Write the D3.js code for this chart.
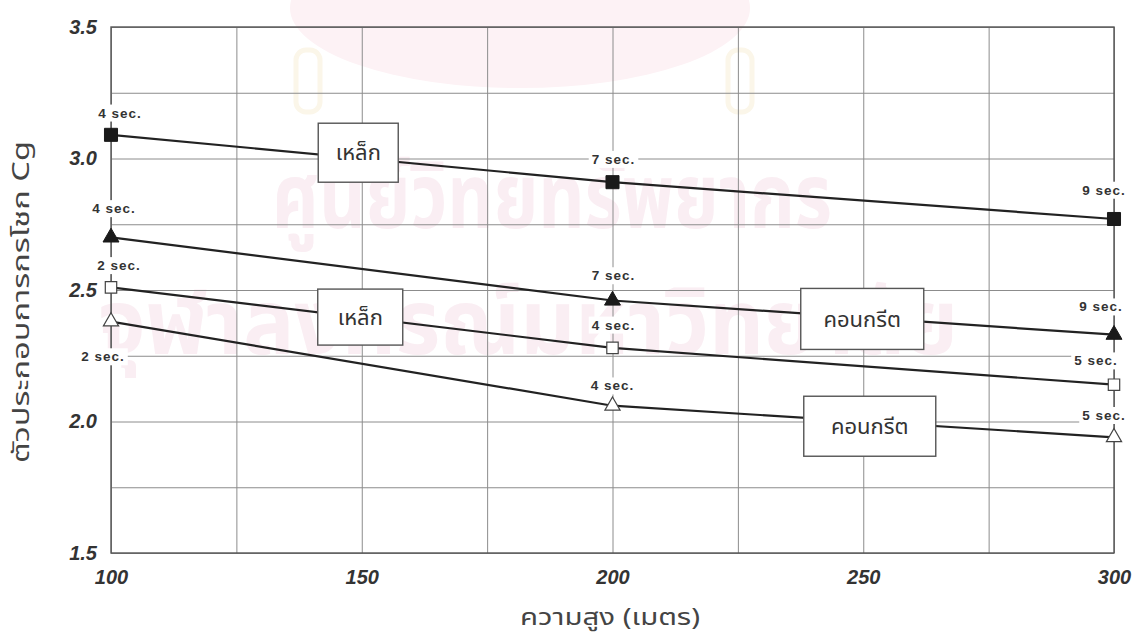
<!DOCTYPE html>
<html>
<head>
<meta charset="utf-8">
<script src="https://cdn.jsdelivr.net/npm/d3@7"></script>
<style>
  html, body { margin: 0; padding: 0; background: #fff; }
  svg { display: block; }
  .thai { font-family: "Noto Sans Thai", "Noto Sans", "DejaVu Sans", sans-serif; }
  .num { font-family: "Liberation Sans", Arial, sans-serif; }
</style>
</head>
<body>
<svg id="chart" width="1144" height="640"></svg>
<script>
// Building height (m) on the x axis
const heights = [100, 200, 300];

// Gust factor Cg for each structure type / case
const steelUpper    = [3.09, 2.91, 2.77];
const concreteUpper = [2.70, 2.46, 2.33];
const steelLower    = [2.51, 2.28, 2.14];
const concreteLower = [2.38, 2.06, 1.94];

// Natural period written next to each point
const steelUpperPeriods    = ["4 sec.", "7 sec.", "9 sec."];
const concreteUpperPeriods = ["4 sec.", "7 sec.", "9 sec."];
const steelLowerPeriods    = ["2 sec.", "4 sec.", "5 sec."];
const concreteLowerPeriods = ["2 sec.", "4 sec.", "5 sec."];

// Axis ticks
const xTicks = [100, 150, 200, 250, 300];
const yTicks = [1.5, 2.0, 2.5, 3.0, 3.5];
const xGrid = [100, 125, 150, 175, 200, 225, 250, 275, 300];
const yGrid = [1.5, 1.75, 2.0, 2.25, 2.5, 2.75, 3.0, 3.25, 3.5];

// Material names shown in the boxed callouts
const steelName = "เหล็ก";
const concreteName = "คอนกรีต";

const xTitle = "ความสูง (เมตร)";
const yTitle = "ตัวประกอบการกรโชก Cg";

// ---- layout ----
const svg = d3.select("#chart");
const plot = { left: 111, right: 1114, top: 27, bottom: 553 };

const x = d3.scaleLinear().domain([100, 300]).range([plot.left, plot.right]);
const y = d3.scaleLinear().domain([1.5, 3.5]).range([plot.bottom, plot.top]);

// faint library stamp in the background
const stamp = svg.append("g").attr("class", "stamp");
stamp.append("ellipse")
  .attr("cx", 520).attr("cy", 8).attr("rx", 230).attr("ry", 80)
  .attr("fill", "#fdf2f5");
[[296, 50], [728, 50]].forEach(([sx, sy]) => {
  stamp.append("rect").attr("x", sx).attr("y", sy).attr("width", 24).attr("height", 62)
    .attr("rx", 10).attr("fill", "none").attr("stroke", "#fbf6e9").attr("stroke-width", 5);
});
stamp.append("text").attr("class", "thai")
  .attr("x", 272).attr("y", 228)
  .attr("textLength", 560).attr("lengthAdjust", "spacingAndGlyphs")
  .attr("font-size", 90).attr("font-weight", "bold").attr("fill", "#faeef3")
  .text("ศูนย์วิทยทรัพยากร");
stamp.append("text").attr("class", "thai")
  .attr("x", 98).attr("y", 354)
  .attr("textLength", 860).attr("lengthAdjust", "spacingAndGlyphs")
  .attr("font-size", 90).attr("font-weight", "bold").attr("fill", "#faeef3")
  .text("จุฬาลงกรณ์มหาวิทยาลัย");

// grid
const grid = svg.append("g").attr("class", "grid");
grid.append("g")
  .attr("transform", `translate(0,${plot.bottom})`)
  .call(d3.axisBottom(x).tickValues(xGrid).tickSize(-(plot.bottom - plot.top)).tickFormat(""))
  .call(g => g.select(".domain").remove())
  .call(g => g.selectAll("line").attr("stroke", "#8c8c8c").attr("stroke-width", 1));
grid.append("g")
  .attr("transform", `translate(${plot.left},0)`)
  .call(d3.axisLeft(y).tickValues(yGrid).tickSize(-(plot.right - plot.left)).tickFormat(""))
  .call(g => g.select(".domain").remove())
  .call(g => g.selectAll("line").attr("stroke", "#8c8c8c").attr("stroke-width", 1));

// frame
svg.append("rect")
  .attr("x", plot.left).attr("y", plot.top)
  .attr("width", plot.right - plot.left).attr("height", plot.bottom - plot.top)
  .attr("fill", "none").attr("stroke", "#555").attr("stroke-width", 1.4);

// axis labels
const yAxis = svg.append("g")
  .attr("transform", `translate(${plot.left},0)`)
  .call(d3.axisLeft(y).tickValues(yTicks).tickSize(0).tickPadding(14).tickFormat(d3.format(".1f")));
yAxis.select(".domain").remove();
yAxis.selectAll("text")
  .attr("class", "num")
  .attr("font-size", 20).attr("font-weight", "bold").attr("font-style", "italic")
  .attr("fill", "#333");

const xAxis = svg.append("g")
  .attr("transform", `translate(0,${plot.bottom})`)
  .call(d3.axisBottom(x).tickValues(xTicks).tickSize(0).tickPadding(17));
xAxis.select(".domain").remove();
xAxis.selectAll("text")
  .attr("class", "num")
  .attr("font-size", 20).attr("font-weight", "bold").attr("font-style", "italic")
  .attr("fill", "#333");

svg.append("text").attr("class", "thai")
  .attr("x", 610).attr("y", 625)
  .attr("text-anchor", "middle")
  .attr("textLength", 180).attr("lengthAdjust", "spacingAndGlyphs")
  .attr("font-size", 23).attr("fill", "#444")
  .text(xTitle);

svg.append("text").attr("class", "thai")
  .attr("transform", `translate(29,302) rotate(-90)`)
  .attr("text-anchor", "middle")
  .attr("textLength", 322).attr("lengthAdjust", "spacingAndGlyphs")
  .attr("font-size", 23).attr("fill", "#444")
  .text(yTitle);

// series definitions (marker style + label placement relative to each point)
const series = [
  { values: steelUpper, periods: steelUpperPeriods, shape: d3.symbolSquare, size: 170, filled: true,
    offsets: [[9, -22], [1, -23], [-10, -29]] },
  { values: concreteUpper, periods: concreteUpperPeriods, shape: d3.symbolTriangle, size: 110, filled: true,
    offsets: [[3, -29], [1, -25], [-13, -28]] },
  { values: steelLower, periods: steelLowerPeriods, shape: d3.symbolSquare, size: 130, filled: false,
    offsets: [[8, -22], [1, -23], [-18, -24]] },
  { values: concreteLower, periods: concreteLowerPeriods, shape: d3.symbolTriangle, size: 100, filled: false,
    offsets: [[-8, 35], [0, -20], [-10, -22]] }
];

const line = d3.line().x((d, i) => x(heights[i])).y(d => y(d));

const lines = svg.append("g").attr("class", "series");
series.forEach(s => {
  lines.append("path")
    .datum(s.values)
    .attr("d", line)
    .attr("fill", "none")
    .attr("stroke", "#222")
    .attr("stroke-width", 2.2);
});

// boxed material callouts (centre in data units)
const callouts = [
  { text: steelName,    cx: 149.3, cy: 3.022, w: 80,  h: 59 },
  { text: steelName,    cx: 149.7, cy: 2.397, w: 85,  h: 56 },
  { text: concreteName, cx: 249.8, cy: 2.390, w: 123, h: 61 },
  { text: concreteName, cx: 251.3, cy: 1.982, w: 132, h: 60 }
];
const boxes = svg.append("g").attr("class", "callouts");
callouts.forEach(c => {
  const g = boxes.append("g").attr("transform", `translate(${x(c.cx)},${y(c.cy)})`);
  g.append("rect")
    .attr("x", -c.w / 2).attr("y", -c.h / 2).attr("width", c.w).attr("height", c.h)
    .attr("fill", "#fff").attr("stroke", "#555").attr("stroke-width", 1.4);
  g.append("text").attr("class", "thai")
    .attr("text-anchor", "middle").attr("dy", "0.35em")
    .attr("font-size", 22).attr("fill", "#333")
    .text(c.text);
});

// markers and period labels
const marks = svg.append("g").attr("class", "marks");
series.forEach(s => {
  s.values.forEach((v, i) => {
    const px = x(heights[i]), py = y(v);
    const [dx, dy] = s.offsets[i];
    const lg = marks.append("g").attr("transform", `translate(${px + dx},${py + dy})`);
    const t = lg.append("text").attr("class", "num")
      .attr("text-anchor", "middle").attr("dy", "0.35em")
      .attr("font-size", 13.5).attr("font-weight", "bold").attr("letter-spacing", 1)
      .attr("fill", "#333")
      .text(s.periods[i]);
    const bb = t.node().getBBox();
    lg.insert("rect", "text")
      .attr("x", bb.x - 3).attr("y", bb.y - 1).attr("width", bb.width + 6).attr("height", bb.height + 2)
      .attr("fill", "#fff");

    marks.append("path")
      .attr("transform", `translate(${px},${py})`)
      .attr("d", d3.symbol().type(s.shape).size(s.size)())
      .attr("fill", s.filled ? "#1a1a1a" : "#fff")
      .attr("stroke", s.filled ? "#1a1a1a" : "#444")
      .attr("stroke-width", s.filled ? 1 : 1.2);
  });
});
</script>
</body>
</html>
